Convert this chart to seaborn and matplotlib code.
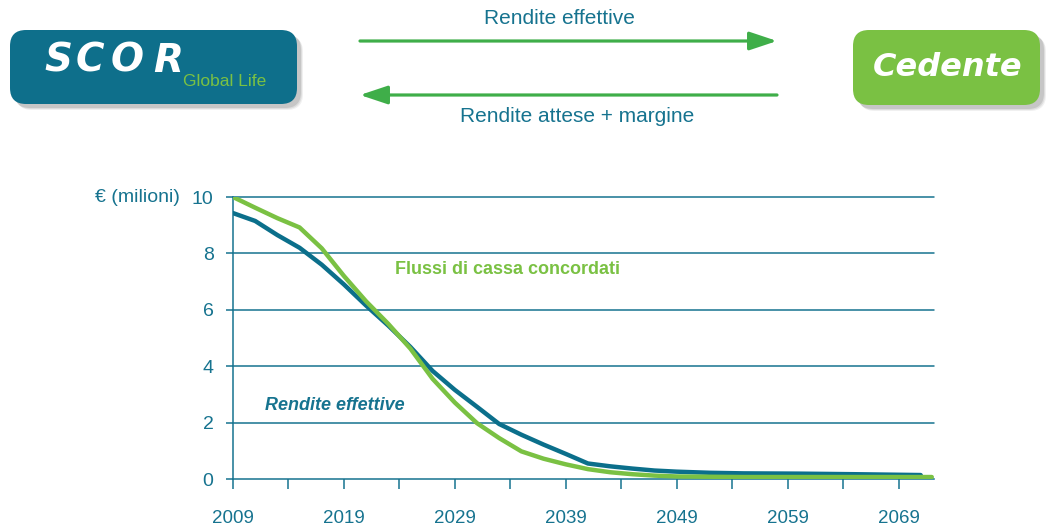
import matplotlib
matplotlib.use("Agg")
import matplotlib.pyplot as plt
import seaborn as sns
import pandas as pd
from matplotlib.patches import FancyBboxPatch, FancyArrowPatch

# ---- data ----
years_flussi = [2009, 2011, 2013, 2015, 2017, 2019, 2021, 2023, 2025, 2027, 2029, 2031,
                2033, 2035, 2037, 2039, 2041, 2043, 2045, 2047, 2049, 2055, 2060, 2065, 2072]
flussi = [10.0, 9.62, 9.25, 8.92, 8.18, 7.2, 6.3, 5.5, 4.62, 3.55, 2.71, 1.98,
          1.45, 0.98, 0.72, 0.52, 0.35, 0.24, 0.17, 0.12, 0.09, 0.07, 0.07, 0.07, 0.07]
years_rendite = [2009, 2011, 2013, 2015, 2017, 2019, 2021, 2023, 2025, 2027, 2029, 2031,
                 2033, 2035, 2037, 2039, 2041, 2043, 2045, 2047, 2049, 2052, 2055, 2060, 2065, 2071]
rendite = [9.43, 9.15, 8.65, 8.2, 7.6, 6.9, 6.15, 5.44, 4.68, 3.83, 3.16, 2.56,
           1.95, 1.57, 1.22, 0.89, 0.55, 0.45, 0.37, 0.3, 0.26, 0.22, 0.2, 0.19, 0.17, 0.14]
y_ticks = [0, 2, 4, 6, 8, 10]
x_tick_labels = ["2009", "2019", "2029", "2039", "2049", "2059", "2069"]

label_flussi = "Flussi di cassa concordati"
label_rendite = "Rendite effettive"
top_arrow_text = "Rendite effettive"
bottom_arrow_text = "Rendite attese + margine"
y_unit = "€ (milioni)"

TEAL = "#0b6f8b"
TEXT_TEAL = "#16738f"
GREEN = "#7ac143"
ARROW_GREEN = "#3fae49"

sns.set_style("white")
plt.rcParams["font.family"] = ["Liberation Sans", "DejaVu Sans"]

fig = plt.figure(figsize=(10.46, 5.29), dpi=100)

# ---- header overlay (pixel coordinates) ----
hdr = fig.add_axes([0, 0, 1, 1], zorder=0)
hdr.set_xlim(0, 1046)
hdr.set_ylim(529, 0)
hdr.axis("off")

def rbox(x0, y0, x1, y1, color):
    for k, a in [(6, 0.06), (5, 0.08), (4, 0.10)]:
        sh = FancyBboxPatch((x0 + k, y0 + k), x1 - x0, y1 - y0,
                            boxstyle="round,pad=0,rounding_size=16",
                            fc="#000000", ec="none", alpha=a)
        hdr.add_patch(sh)
    b = FancyBboxPatch((x0, y0), x1 - x0, y1 - y0,
                       boxstyle="round,pad=0,rounding_size=16",
                       fc=color, ec="none")
    hdr.add_patch(b)

rbox(10, 30, 297, 104, "#0e6f8b")
rbox(853, 30, 1040, 105, GREEN)

for ch, xc in zip("SCOR", [58, 90, 127, 168]):
    hdr.text(xc, 61, ch, color="white", fontsize=28, fontweight="bold",
             fontstyle="italic", family="DejaVu Sans", ha="center", va="center")
hdr.text(183, 82, "Global Life", color=GREEN, fontsize=12.5, ha="left", va="center")
hdr.text(948, 68, "Cedente", color="white", fontsize=23, fontweight="bold",
         fontstyle="italic", family="DejaVu Sans", ha="center", va="center")

hdr.add_patch(FancyArrowPatch((360, 41), (777, 41), arrowstyle="-|>,head_length=1.2,head_width=0.4",
                              mutation_scale=14, color=ARROW_GREEN, lw=2.3,
                              shrinkA=0, shrinkB=0))
hdr.add_patch(FancyArrowPatch((777, 95), (360, 95), arrowstyle="-|>,head_length=1.2,head_width=0.4",
                              mutation_scale=14, color=ARROW_GREEN, lw=2.3,
                              shrinkA=0, shrinkB=0))
hdr.text(559, 19, top_arrow_text, color=TEXT_TEAL, fontsize=15, ha="center", va="center")
hdr.text(577, 116, bottom_arrow_text, color=TEXT_TEAL, fontsize=15, ha="center", va="center")

# ---- main chart ----
ax = fig.add_axes([233 / 1046, 1 - 479 / 529, (934 - 233) / 1046, (479 - 197) / 529], zorder=1)
ax.patch.set_alpha(0)

df_f = pd.DataFrame({"anno": years_flussi, "valore": flussi})
df_r = pd.DataFrame({"anno": years_rendite, "valore": rendite})
sns.lineplot(data=df_r, x="anno", y="valore", ax=ax, color=TEAL, lw=3.2, zorder=3)
sns.lineplot(data=df_f, x="anno", y="valore", ax=ax, color=GREEN, lw=3.2, zorder=3)

major = [int(s) for s in x_tick_labels]
ax.set_xticks(major)
ax.set_xticklabels(x_tick_labels)
ax.set_xticks([m + 5 for m in major[:-1]], minor=True)
ax.set_yticks(y_ticks)
ax.set_yticklabels([str(v) for v in y_ticks])
ax.set_xlim(2009, 2072.2)
ax.set_ylim(0, 10)
ax.set_xlabel("")
ax.set_ylabel("")

for v in y_ticks[1:]:
    ax.axhline(v, color=TEXT_TEAL, lw=1.1, zorder=1, clip_on=False)

for s in ["top", "right"]:
    ax.spines[s].set_visible(False)
for s in ["left", "bottom"]:
    ax.spines[s].set_color(TEXT_TEAL)
    ax.spines[s].set_linewidth(1.1)

ax.tick_params(axis="y", which="both", length=5, width=1.1, color=TEXT_TEAL,
               labelcolor=TEXT_TEAL, labelsize=14, pad=9, left=True, direction="out")
ax.tick_params(axis="x", which="both", length=7, width=1.1, color=TEXT_TEAL,
               labelcolor=TEXT_TEAL, labelsize=13.5, pad=15, bottom=True, direction="out")

ax.text(395, 269, label_flussi, transform=hdr.transData, color=GREEN, fontsize=13,
        fontweight="bold", ha="left", va="center")
ax.text(265, 406, label_rendite, transform=hdr.transData, color=TEXT_TEAL, fontsize=13,
        fontweight="bold", fontstyle="italic", ha="left", va="center")
hdr.text(180, 197, y_unit, color=TEXT_TEAL, fontsize=14, ha="right", va="center")

fig.savefig("out.png", dpi=100)
